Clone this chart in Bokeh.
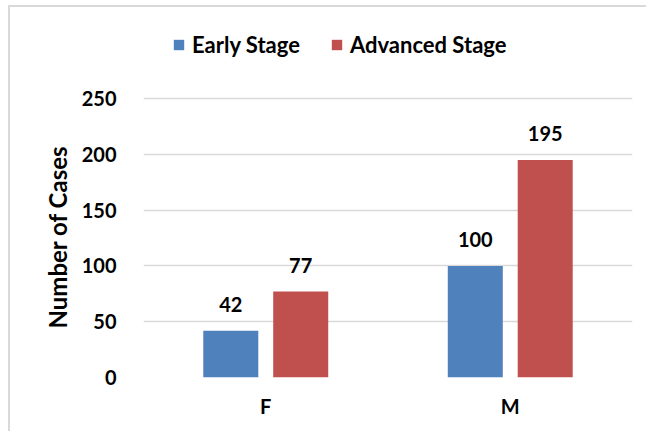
from bokeh.plotting import figure
from bokeh.models import FactorRange, Range1d, FixedTicker, Legend, LegendItem, ColumnDataSource, Title
from bokeh.transform import dodge
from bokeh.embed import file_html
from bokeh.resources import INLINE
from bokeh.core.properties import value

categories = ["F", "M"]
early = [42, 100]
advanced = [77, 195]
series_names = ["Early Stage", "Advanced Stage"]
y_ticks = [0, 50, 100, 150, 200, 250]
y_label = "Number of Cases"

FONT = "Lato"
BLUE = "#4F81BD"
RED = "#C0504D"
GRID = "#d9d9d9"

# layout (pixels): the frame extends above the 250 gridline so the legend can sit inside it
FIG_W, FIG_H = 638, 426
BORDER_L, BORDER_R, BORDER_T, BORDER_B = 133, 16, 21, 56
PLOT_PX_250 = 279                                   # pixels from 0 to 250
frame_h = FIG_H - BORDER_T - BORDER_B
y_end = y_ticks[-1] * frame_h / PLOT_PX_250

src = ColumnDataSource(dict(
    cat=categories,
    early=early,
    advanced=advanced,
    early_lbl=[str(v) for v in early],
    adv_lbl=[str(v) for v in advanced],
))

p = figure(
    width=FIG_W, height=FIG_H,
    x_range=FactorRange(factors=categories, range_padding=0),
    y_range=Range1d(0, y_end),
    output_backend="svg", toolbar_location=None,
    min_border_left=BORDER_L, min_border_right=BORDER_R,
    min_border_top=BORDER_T, min_border_bottom=BORDER_B,
)
p.styles = {"border-top": "2px solid #d9d9d9", "border-left": "2px solid #d9d9d9",
            "margin-left": "8px", "margin-top": "5px"}
p.outline_line_color = None
p.background_fill_color = "white"
p.border_fill_color = "white"

w = 0.225
off = 0.143
r1 = p.vbar(x=dodge("cat", -off, range=p.x_range), top="early", width=w, source=src,
            fill_color=BLUE, line_color=None)
r2 = p.vbar(x=dodge("cat", off, range=p.x_range), top="advanced", width=w, source=src,
            fill_color=RED, line_color=None)

p.text(x=dodge("cat", -off, range=p.x_range), y="early", text="early_lbl", source=src,
       text_align="center", text_baseline="alphabetic", y_offset=-26,
       text_font=value(FONT), text_font_style="bold", text_font_size="20px", text_color="black")
p.text(x=dodge("cat", off, range=p.x_range), y="advanced", text="adv_lbl", source=src,
       text_align="center", text_baseline="alphabetic", y_offset=-26,
       text_font=value(FONT), text_font_style="bold", text_font_size="20px", text_color="black")

# axes
p.yaxis.ticker = FixedTicker(ticks=y_ticks)
p.yaxis.axis_line_color = None
p.yaxis.major_tick_line_color = None
p.yaxis.minor_tick_line_color = None
p.yaxis.major_label_standoff = 21
p.yaxis.major_label_text_font = FONT
p.yaxis.major_label_text_font_style = "bold"
p.yaxis.major_label_text_font_size = "20px"
p.yaxis.major_label_text_color = "black"

ylab = Title(text=y_label, align="left", offset=49, standoff=13,
             text_font=FONT, text_font_style="bold", text_font_size="24px",
             text_color="black")
p.add_layout(ylab, "left")

p.xaxis.axis_line_color = None
p.xaxis.major_tick_line_color = None
p.xaxis.minor_tick_line_color = None
p.xaxis.major_label_standoff = 10
p.xaxis.major_label_text_font = FONT
p.xaxis.major_label_text_font_style = "bold"
p.xaxis.major_label_text_font_size = "20px"
p.xaxis.major_label_text_color = "black"

p.xgrid.grid_line_color = None
p.ygrid.grid_line_color = GRID
p.ygrid.grid_line_width = 1.5

legend = Legend(
    items=[LegendItem(label=series_names[0], renderers=[r1]),
           LegendItem(label=series_names[1], renderers=[r2])],
    location=(29, 319), orientation="horizontal",
    padding=0, margin=0, spacing=30,
    glyph_width=13, glyph_height=13, label_standoff=7,
    border_line_color=None, background_fill_alpha=0,
    label_text_font=FONT, label_text_font_style="bold", label_text_font_size="22px",
    label_text_color="black",
)
p.add_layout(legend, "center")

open("out.html", "w").write(file_html(p, INLINE))
